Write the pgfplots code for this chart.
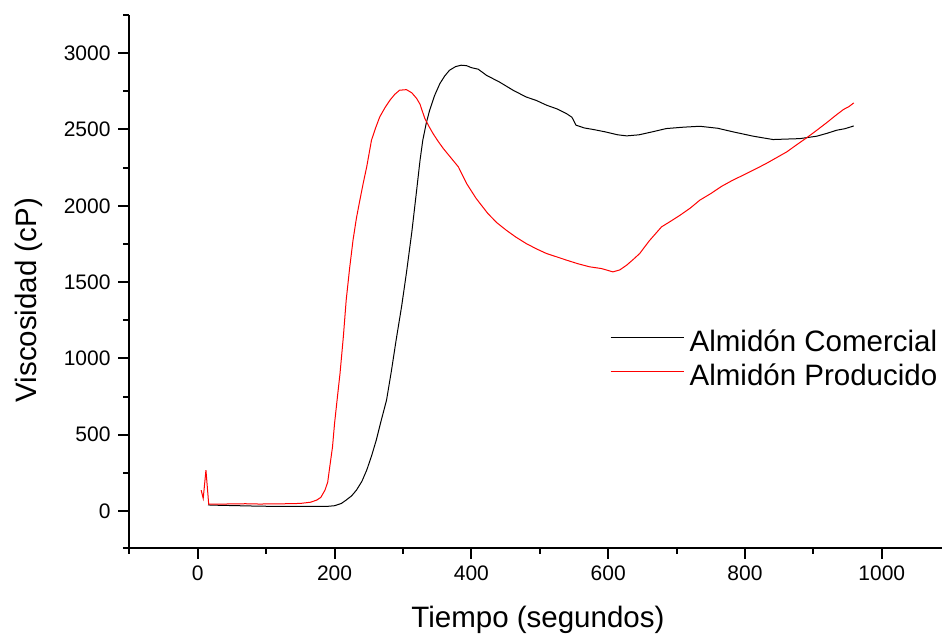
\documentclass[border=0pt]{standalone}
\usepackage{pgfplots}
\pgfplotsset{compat=1.18}
\usepackage{fontspec}
\setmainfont{Liberation Sans}
\begin{document}
\begin{tikzpicture}
\begin{axis}[
  at={(0pt,0pt)}, anchor=south west,
  scale only axis, width=813pt, height=533pt,
  xmin=-100.5, xmax=1088, ymin=-242, ymax=3250,
  axis lines=left,
  axis line style={-, line width=2pt},
  x axis line style={shorten <=-6pt},
  xtick={0,200,...,1000}, ytick={0,500,...,3000},
  minor xtick={-100,100,...,1100}, minor ytick={-250,250,...,3250},
  tick align=outside, major tick length=11pt, minor tick length=6pt,
  every tick/.style={line width=2pt, black},
  /pgf/number format/assume math mode=true,
  /pgf/number format/1000 sep={},
  tick label style={font=\fontsize{21}{24}\selectfont},
  xticklabel style={yshift=-3pt},
  yticklabel style={xshift=-4pt},
  label style={font=\fontsize{29.5}{35}\selectfont},
  xlabel={Tiempo (segundos)},
  ylabel={Viscosidad (cP)},
  xlabel style={at={(axis description cs:0.503,0)}, anchor=center, yshift=-72pt},
  ylabel style={at={(axis description cs:-0.123,0.465)}, anchor=center},
  legend image code/.code={\draw[#1, line width=1pt] (0pt,8.5pt) -- (73pt,8.5pt);},
  legend cell align=left,
  legend style={draw=none, fill=none, at={(axis description cs:0.5916,0.347)}, anchor=west,
    font=\fontsize{29.5}{35}\selectfont, row sep=0pt, inner sep=0pt,
    nodes={inner xsep=5.5pt, inner ysep=0pt, text height=22pt, text depth=12pt}},
]
\addplot[black, line width=1pt] coordinates {
(15,40) (30,38) (50,36) (70,34) (90,32) (110,31) (130,30) (150,31) (170,30) (190,31)
(200,35) (210,50) (217,72) (225,100) (232,137) (240,195) (247,268) (254,360) (261,465)
(268,590) (276,727) (283,915) (290,1120) (298,1340) (305,1558) (313,1830) (320,2102)
(325,2300) (329,2430) (334,2540) (339,2626) (346,2720) (354,2801) (361,2850) (368,2888)
(377,2912) (385,2921) (393,2918) (400,2905) (410,2895) (422,2855) (441,2811) (461,2757)
(480,2713) (495,2690) (510,2659) (525,2635) (539,2604) (547,2580) (553,2528) (565,2510)
(578,2500) (595,2485) (614,2465) (627,2458) (645,2465) (665,2485) (685,2506) (710,2515)
(734,2521) (760,2508) (783,2484) (812,2456) (841,2434) (860,2437) (880,2440) (905,2456)
(920,2475) (934,2495) (946,2505) (959,2523)
};
\addlegendentry{Almidón Comercial}
\addplot[red, line width=1pt] coordinates {
(5,137) (8,83) (12,268) (16,46) (30,45) (50,47) (70,48) (90,46) (110,47) (130,48)
(150,50) (165,58) (174,72) (180,90) (186,137) (190,190) (193,290) (197,420) (200,574)
(204,740) (208,902) (213,1150) (217,1382) (222,1590) (227,1775) (232,1920) (237,2037)
(242,2150) (247,2255) (254,2430) (260,2510) (266,2582) (274,2645) (281,2692) (288,2730)
(295,2757) (305,2761) (313,2740) (320,2703) (325,2665) (327,2637) (332,2572) (338,2520)
(344,2473) (351,2425) (359,2375) (370,2315) (381,2255) (393,2146) (407,2048) (424,1950)
(437,1890) (451,1840) (465,1795) (480,1753) (495,1718) (510,1687) (525,1665) (539,1644)
(556,1620) (573,1600) (590,1589) (607,1567) (617,1580) (627,1611) (637,1650) (646,1687)
(660,1770) (678,1862) (690,1895) (705,1938) (720,1985) (734,2037) (750,2080) (766,2128)
(781,2165) (797,2200) (815,2240) (831,2277) (846,2315) (861,2353) (875,2398) (890,2445)
(905,2495) (919,2543) (932,2590) (944,2631) (952,2650) (959,2674)
};
\addlegendentry{Almidón Producido}
\end{axis}
\pgfresetboundingbox
\path[use as bounding box] (-129pt,-88pt) rectangle (813pt,548pt);
\end{tikzpicture}
\end{document}
